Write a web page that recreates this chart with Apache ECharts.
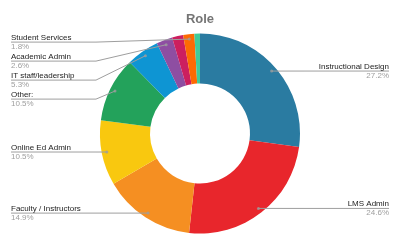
<!DOCTYPE html>
<html>
<head>
<meta charset="utf-8">
<script src="https://cdn.jsdelivr.net/npm/echarts@6/dist/echarts.min.js"></script>
<style>
html,body{margin:0;padding:0;background:#fff;}
#chart{width:400px;height:245px;}
</style>
</head>
<body>
<div id="chart"></div>
<script>
// ---- data ----
var title = 'Role';
var categories = ['Instructional Design', 'LMS Admin', 'Faculty / Instructors', 'Online Ed Admin', 'Other:', 'IT staff/leadership', 'Academic Admin', 'Unlabeled (pink)', 'Student Services', 'Unlabeled (teal)'];
var percents = [27.2, 24.6, 14.9, 10.5, 10.5, 5.3, 2.6, 1.8, 1.8, 0.9];
var labelled = [true, true, true, true, true, true, true, false, true, false];
var palette = ['#2a7ba1', '#e8262c', '#f58f22', '#f9c80f', '#23a25b', '#0e95d3', '#8e4ea2', '#cc1f5f', '#fd6a02', '#3fcb9b'];

// ---- layout constants ----
var CX = 200, CY = 133.5, R_OUT = 100, R_IN = 50, R_DOT = 95;
var FONT = '"Liberation Sans", Arial, sans-serif';

var total = percents.reduce(function (a, b) { return a + b; }, 0);

var mainData = categories.map(function (c, i) {
  return { name: c, value: percents[i], itemStyle: { color: palette[i] } };
});
var labelData = categories.map(function (c, i) {
  return { name: c, value: percents[i], label: { show: labelled[i] }, labelLine: { show: labelled[i] } };
});
// dot positions on the ring (radius, angle) derived from cumulative values
var dots = [];
var cum = 0;
percents.forEach(function (v, i) {
  if (labelled[i]) dots.push([R_DOT, cum + v / 2]);
  cum += v;
});

var chart = echarts.init(document.getElementById('chart'), null, { renderer: 'canvas' });
chart.setOption({
  animation: false,
  backgroundColor: '#ffffff',
  title: {
    text: title, left: 'center', top: 8,
    textStyle: { fontFamily: FONT, fontSize: 13, fontWeight: 'bold', color: '#757575' }
  },
  polar: { center: [CX, CY], radius: R_OUT },
  angleAxis: { type: 'value', min: 0, max: total, startAngle: 90, clockwise: true, show: false },
  radiusAxis: { type: 'value', min: 0, max: R_OUT, show: false },
  series: [
    {
      type: 'pie', center: [CX, CY], radius: [R_IN, R_OUT], startAngle: 90,
      label: { show: false }, labelLine: { show: false }, silent: true,
      itemStyle: { borderWidth: 0 },
      data: mainData, z: 1
    },
    {
      type: 'pie', center: [CX, CY], radius: [R_IN, R_DOT], startAngle: 90,
      silent: true, z: 2,
      itemStyle: { color: 'rgba(0,0,0,0)', borderWidth: 0 },
      label: {
        show: true, position: 'outside', alignTo: 'edge', edgeDistance: 11,
        formatter: function (p) { return '{n|' + p.name + '}\n{p|' + p.value.toFixed(1) + '%}'; },
        rich: {
          n: { fontFamily: FONT, fontSize: 8, color: '#222222', lineHeight: 9 },
          p: { fontFamily: FONT, fontSize: 8, color: '#9e9e9e', lineHeight: 9 }
        }
      },
      labelLine: { show: true, length: 0.01, length2: 8, smooth: false, lineStyle: { color: '#9e9e9e', width: 1 } },
      labelLayout: function (p) {
        if (!p.labelLinePoints) return {};
        var r = p.labelRect, pts = p.labelLinePoints;
        var midY = r.y + r.height / 2;
        var isLeft = r.x + r.width / 2 < CX;
        var out = {};
        // the crowded top-left stack sits a little lower, as in the reference
        if (isLeft && midY < CY - 20) {
          midY += 3;
          out.x = r.x; out.y = midY; out.align = 'left'; out.verticalAlign = 'middle';
        }
        var dot = pts[0];
        var far = isLeft ? r.x : r.x + r.width;
        var bend;
        if (isLeft) { bend = Math.max(r.x + r.width + 2, r.x + 85); bend = Math.min(bend, dot[0]); }
        else { bend = Math.min(r.x - 2, r.x + r.width - 85); bend = Math.max(bend, dot[0]); }
        out.labelLinePoints = [dot, [bend, midY], [far, midY]];
        return out;
      },
      data: labelData
    },
    {
      type: 'scatter', coordinateSystem: 'polar', symbol: 'circle', symbolSize: 3, silent: true, z: 3,
      itemStyle: { color: '#9e9e9e' },
      data: dots
    }
  ]
});
</script>
</body>
</html>
